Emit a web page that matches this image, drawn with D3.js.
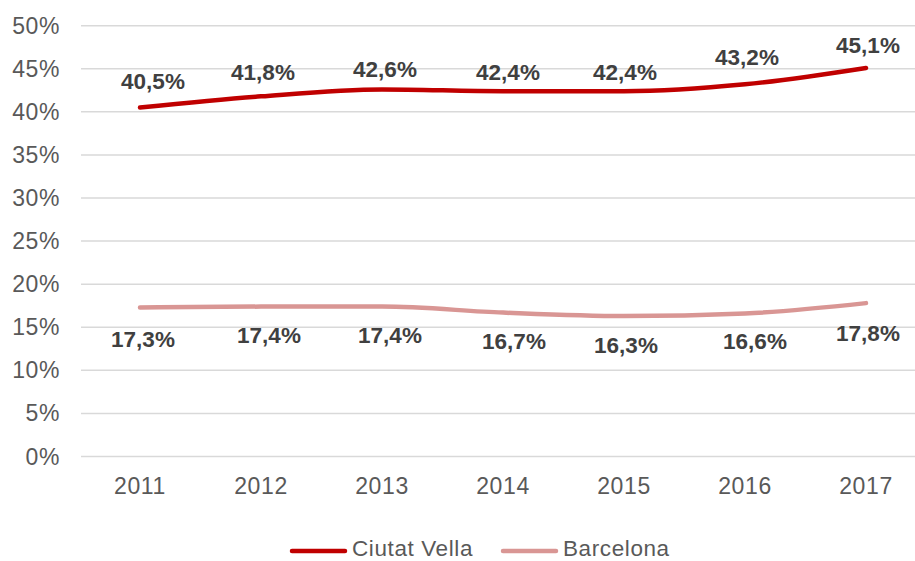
<!DOCTYPE html>
<html>
<head>
<meta charset="utf-8">
<script src="https://cdn.jsdelivr.net/npm/d3@7"></script>
<style>
  body { margin: 0; background: #fff; }
  svg { display: block; font-family: "Liberation Sans", Arial, sans-serif; }
</style>
</head>
<body>
<svg id="chart" width="915" height="561"></svg>
<script>
const years = ['2011', '2012', '2013', '2014', '2015', '2016', '2017'];
const ciutatVella = [40.5, 41.8, 42.6, 42.4, 42.4, 43.2, 45.1];
const barcelona = [17.3, 17.4, 17.4, 16.7, 16.3, 16.6, 17.8];
const yTicks = [0, 5, 10, 15, 20, 25, 30, 35, 40, 45, 50];

// label nudges (layout only)
const cvLabelDx = [13, 2, 3, 5, 1, 2, 2];
const cvLabelDy = [-26, -24, -20, -19, -19, -27, -23];
const bcnLabelDx = [3, 8, 8, 11, 2, 10, 2];
const bcnLabelDy = [32, 29, 29, 29, 29, 28, 30];

const svg = d3.select('#chart');

const x = d3.scalePoint()
    .domain(years)
    .range([79.5, 926.5])
    .padding(0.5);

const y = d3.scaleLinear()
    .domain([0, 50])
    .range([456.5, 25.7]);

const fmt = v => v.toFixed(1).replace('.', ',') + '%';

// gridlines
svg.append('g')
    .selectAll('line')
    .data(yTicks)
    .join('line')
    .attr('x1', 81)
    .attr('x2', 915)
    .attr('y1', d => y(d))
    .attr('y2', d => y(d))
    .attr('stroke', '#d9d9d9')
    .attr('stroke-width', 1.5);

// y tick labels
svg.append('g')
    .selectAll('text')
    .data(yTicks)
    .join('text')
    .attr('x', 60)
    .attr('y', d => y(d))
    .attr('dy', '0.35em')
    .attr('text-anchor', 'end')
    .attr('font-size', 23)
    .attr('letter-spacing', 0.6)
    .attr('fill', '#595959')
    .text(d => d + '%');

// x labels
svg.append('g')
    .selectAll('text')
    .data(years)
    .join('text')
    .attr('x', d => x(d))
    .attr('y', 486)
    .attr('dy', '0.35em')
    .attr('text-anchor', 'middle')
    .attr('font-size', 23)
    .attr('letter-spacing', 0.6)
    .attr('fill', '#595959')
    .text(d => d);

const series = [
    { name: 'Ciutat Vella', values: ciutatVella, color: '#c00000', dx: cvLabelDx, dy: cvLabelDy },
    { name: 'Barcelona', values: barcelona, color: '#d99694', dx: bcnLabelDx, dy: bcnLabelDy }
];

const line = d3.line()
    .x((d, i) => x(years[i]))
    .y(d => y(d))
    .curve(d3.curveMonotoneX);

// draw Barcelona first so Ciutat Vella is on top
series.slice().reverse().forEach(s => {
    svg.append('path')
        .datum(s.values)
        .attr('fill', 'none')
        .attr('stroke', s.color)
        .attr('stroke-width', 4.5)
        .attr('stroke-linecap', 'round')
        .attr('d', line);
});

series.forEach(s => {
    svg.append('g')
        .selectAll('text')
        .data(s.values)
        .join('text')
        .attr('x', (d, i) => x(years[i]) + s.dx[i])
        .attr('y', (d, i) => y(d) + s.dy[i])
        .attr('dy', '0.35em')
        .attr('text-anchor', 'middle')
        .attr('font-size', 22.5)
        .attr('font-weight', 'bold')
        .attr('fill', '#404040')
        .text(d => fmt(d));
});

// legend
const legendX = [292, 503];
const legend = svg.append('g');
series.forEach((s, i) => {
    legend.append('line')
        .attr('x1', legendX[i])
        .attr('x2', legendX[i] + 53)
        .attr('y1', 551)
        .attr('y2', 551)
        .attr('stroke', s.color)
        .attr('stroke-width', 4.5)
        .attr('stroke-linecap', 'round');
    legend.append('text')
        .attr('x', legendX[i] + 60)
        .attr('y', 556)
        .attr('font-size', 22.5)
        .attr('letter-spacing', 0.6)
        .attr('fill', '#595959')
        .text(s.name);
});
</script>
</body>
</html>
